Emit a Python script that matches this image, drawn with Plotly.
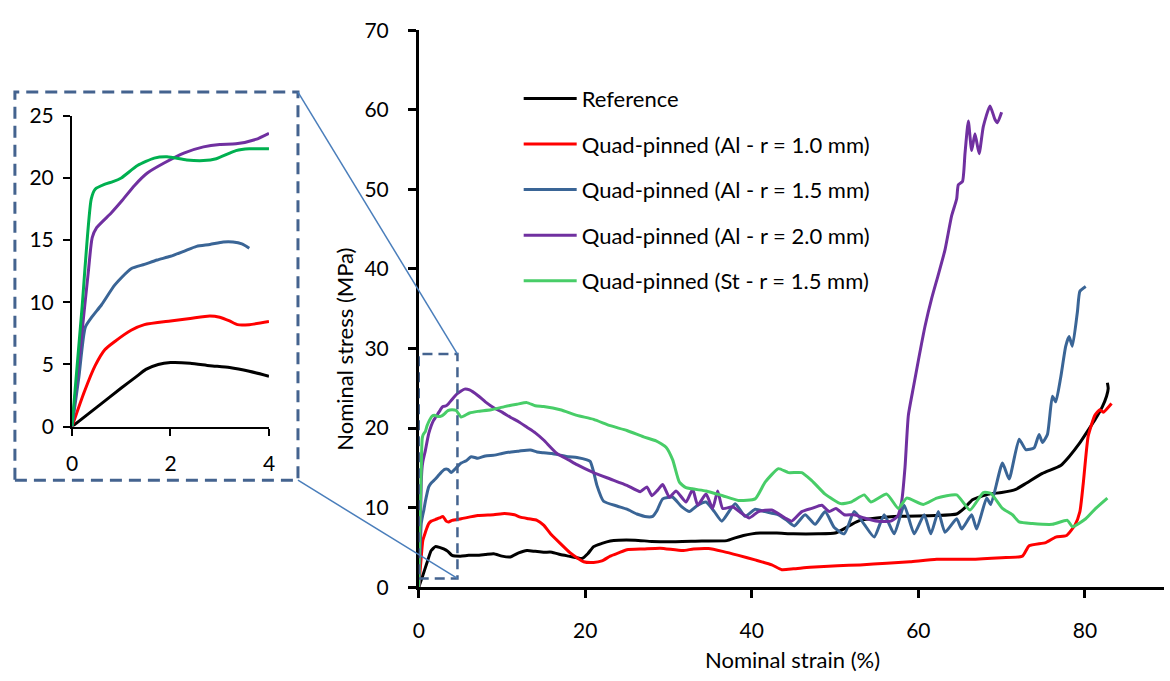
import plotly.graph_objects as go

# ---------------- main chart data (nominal strain %, nominal stress MPa) ----------------
ref_x = [0, 0.5, 1, 1.5, 2, 2.5, 3, 3.5, 4, 5, 6, 7, 8, 9, 10, 11, 12, 13, 14, 15, 16, 17, 18, 19, 19.6, 20.3,
         21, 22, 23, 24, 26, 28, 30, 34, 37, 38, 39, 40, 41, 43, 45, 48, 50, 51, 52, 53, 55, 58, 62, 64.6, 65.5,
         66.5, 68.5, 70, 71.7, 73, 74.9, 77.1, 78.1, 79.3, 80.5, 81.3, 82.1, 82.6, 82.8, 82.7]
ref_y = [0, 1.5, 3.1, 4.6, 5.1, 5.0, 4.8, 4.5, 4.0, 3.9, 4.0, 4.0, 4.1, 4.2, 3.9, 3.8, 4.3, 4.6, 4.5, 4.4, 4.4,
         4.1, 3.9, 3.7, 3.6, 4.2, 5.1, 5.5, 5.8, 5.9, 5.9, 5.75, 5.7, 5.8, 5.85, 6.2, 6.5, 6.7, 6.8, 6.8, 6.7,
         6.7, 6.8, 7.3, 7.9, 8.4, 8.7, 8.9, 9.0, 9.2, 9.9, 11.0, 11.7, 11.9, 12.3, 13.1, 14.3, 15.3, 16.4, 18.0,
         19.9, 21.2, 22.7, 24.0, 25.0, 25.7]

red_x = [0, 0.2, 0.4, 0.5, 0.8, 1.0, 1.2, 1.5, 2.0, 2.5, 2.9, 3.3, 3.6, 4.0, 5.1, 7.1, 9, 10.3, 11.5, 12.2, 13.2,
         14.2, 15.0, 15.8, 17, 18.2, 19.0, 19.8, 21, 22, 23, 24, 25, 27, 29, 31.7, 33, 34.8, 36.5, 38.4, 40.5,
         42.4, 43.6, 45, 47, 50.3, 53, 56.2, 59, 62.2, 66.1, 70, 72.5, 73.3, 75.3, 76.5, 77.8, 78.8, 79.4, 79.8,
         80.4, 81.2, 81.8, 82.2, 83.2]
red_y = [0, 2.5, 5.0, 5.9, 6.9, 7.5, 8.0, 8.3, 8.5, 8.7, 8.9, 8.3, 8.2, 8.4, 8.6, 9.0, 9.1, 9.25, 9.1, 8.8, 8.6,
         8.4, 7.8, 6.75, 5.5, 4.3, 3.7, 3.2, 3.1, 3.3, 3.9, 4.3, 4.7, 4.8, 4.9, 4.6, 4.8, 4.85, 4.5, 4.0, 3.4,
         2.8, 2.2, 2.3, 2.5, 2.7, 2.8, 3.0, 3.2, 3.5, 3.5, 3.7, 3.9, 5.2, 5.6, 6.3, 6.5, 7.8, 9.5, 13.0, 19.0,
         21.6, 22.3, 22.0, 23.1]

blue_x = [0, 0.15, 0.3, 0.45, 0.6, 0.8, 1.0, 1.2, 1.5, 2.0, 2.5, 3.1, 3.5, 3.9, 4.5, 5.1, 5.7, 6.3, 7.1, 8, 9.1,
          10, 11.1, 12, 13.4, 14.2, 15, 16, 17, 18, 19, 20.2, 20.6, 21.0, 21.4, 22.2, 23.8, 25, 26.2, 27.4, 28.1,
          28.6, 29.3, 30.5, 31.5, 32.5, 33.5, 34.5, 35.5, 36.4, 38.0, 39.2, 40.4, 41.6, 43.2, 44.2, 45.1, 46.4,
          47.6, 48.8, 49.9, 51.1, 52.3, 53.5, 54.7, 55.9, 57.1, 58.3, 59.5, 60.7, 61.5, 62.4, 63.2, 64.6, 65.2,
          66.4, 67.0, 68.2, 68.7, 70.1, 70.9, 72.1, 72.9, 73.9, 74.5, 74.9, 75.5, 76.1, 76.5, 77.1, 77.7, 78.1,
          78.5, 79.1, 79.4, 80.1]
blue_y = [0, 4, 8, 8.9, 9.6, 10.8, 11.8, 12.6, 13.1, 13.6, 14.2, 14.8, 14.8, 14.4, 15.0, 15.6, 15.9, 16.4, 16.2,
          16.5, 16.6, 16.8, 17.0, 17.1, 17.25, 17.0, 16.9, 16.8, 16.6, 16.4, 16.3, 16.0, 15.8, 14.5, 12.8, 10.8,
          10.2, 9.8, 9.2, 8.85, 8.9, 9.6, 11.1, 11.3, 10.2, 9.5, 10.3, 10.7, 9.5, 8.3, 10.5, 8.9, 9.8, 9.5, 9.1,
          8.4, 7.7, 9.1, 7.9, 9.5, 7.5, 6.7, 9.5, 7.9, 6.3, 9.1, 6.7, 10.3, 6.7, 9.1, 6.7, 9.5, 6.9, 8.6, 7.3,
          9.1, 7.3, 11.2, 10.4, 15.6, 13.6, 18.6, 17.3, 17.5, 19.2, 18.2, 19.2, 24.0, 23.3, 26.4, 30.3, 31.5,
          30.3, 34.6, 37.2, 37.8]

purple_x = [0, 0.2, 0.3, 0.4, 0.5, 0.8, 1.0, 1.2, 1.5, 1.8, 2.0, 2.3, 2.6, 2.9, 3.3, 3.6, 4.0, 4.6, 5.5, 6.1,
            7.1, 8, 9.1, 10, 11.1, 12, 13.0, 14, 15, 16.6, 18, 19, 21, 23, 25, 26.6, 27.4, 28, 28.7, 29.3, 30.1,
            30.9, 32.1, 32.9, 33.5, 34.5, 35.3, 35.9, 36.5, 37.7, 38.5, 39.7, 40.8, 42.4, 44, 44.8, 46, 47.2,
            48.4, 49.3, 50.1, 51.1, 52.3, 53.5, 55.1, 56.7, 57.5, 58.0, 58.4, 58.8, 59.4, 60.0, 60.8, 61.6, 62.4,
            63.2, 64.0, 64.6, 64.8, 65.3, 65.6, 66.0, 66.4, 66.8, 67.3, 67.8, 68.6, 69.2, 69.5, 70.0]
purple_y = [0, 8, 13, 15, 15.8, 17.2, 18.3, 19.3, 20.3, 21.0, 21.3, 21.8, 22.3, 22.7, 22.8, 23.1, 23.6, 24.3,
            24.9, 24.8, 24.1, 23.3, 22.5, 22.0, 21.3, 20.8, 20.1, 19.4, 18.5, 16.8, 16.0, 15.4, 14.4, 13.6, 12.8,
            12.0, 12.6, 11.5, 12.2, 12.9, 11.3, 12.1, 10.7, 12.3, 10.3, 11.7, 9.9, 12.1, 9.9, 10.1, 9.5, 8.7, 9.5,
            9.7, 8.7, 8.3, 9.5, 9.9, 10.3, 9.5, 9.9, 9.1, 9.1, 8.7, 8.3, 8.3, 8.9, 10.8, 15.1, 21.6, 25.1, 28.5,
            32.8, 36.3, 39.3, 42.4, 46.7, 48.8, 50.6, 51.0, 54.5, 58.6, 54.9, 57.0, 54.5, 57.9, 60.5, 58.8, 58.4,
            59.7]

green_x = [0, 0.2, 0.35, 0.42, 0.55, 0.8, 1.0, 1.3, 1.6, 1.9, 2.3, 2.7, 3.0, 3.5, 4.0, 4.5, 5.1, 6.1, 7.1, 8.7,
           10.3, 11.8, 13.0, 14, 15, 17, 19, 21, 23, 25, 27, 28.5, 29.7, 30.5, 31.3, 32.1, 34.5, 36.5, 38.4, 40.4,
           41.6, 43.2, 44.4, 46, 47.2, 48.8, 50.7, 51.9, 53.5, 54.3, 56.2, 57.6, 58.6, 60.6, 62.2, 64.6, 66.2,
           67.8, 68.7, 70.1, 71.3, 72.1, 73.7, 76.1, 77.9, 78.5, 80.1, 81.3, 82.7]
green_y = [0, 10, 17, 18.7, 19.2, 19.6, 20.3, 21.0, 21.5, 21.6, 21.45, 21.5, 21.7, 22.2, 22.3, 22.2, 21.4, 21.9,
           22.1, 22.3, 22.7, 23.0, 23.2, 22.8, 22.7, 22.3, 21.6, 21.1, 20.3, 19.7, 18.9, 18.4, 17.6, 16.0, 13.2,
           12.5, 12.1, 11.5, 10.9, 11.1, 13.2, 14.9, 14.4, 14.4, 13.4, 11.7, 10.5, 10.7, 11.6, 10.7, 11.7, 9.9,
           11.2, 10.4, 11.2, 11.6, 9.7, 11.9, 11.8, 9.9, 9.1, 8.2, 8.0, 7.9, 8.4, 7.6, 8.6, 9.9, 11.2]

# ---------------- inset data (0-4 % strain) ----------------
ins_ref_x = [0, 0.5, 1.0, 1.3, 1.5, 1.75, 2.0, 2.4, 2.8, 3.2, 3.6, 4.0]
ins_ref_y = [0, 1.55, 3.1, 4.0, 4.6, 5.0, 5.15, 5.1, 4.9, 4.75, 4.45, 4.05]
ins_red_x = [0, 0.25, 0.47, 0.67, 0.87, 1.2, 1.47, 2.0, 2.4, 2.8, 3.0, 3.2, 3.36, 3.6, 4.0]
ins_red_y = [0, 2.8, 4.9, 6.2, 6.85, 7.75, 8.2, 8.5, 8.7, 8.9, 8.8, 8.5, 8.2, 8.2, 8.45]
ins_blue_x = [0, 0.14, 0.27, 0.4, 0.6, 0.87, 1.2, 1.47, 1.73, 2.0, 2.27, 2.53, 2.8, 3.07, 3.27, 3.45, 3.6]
ins_blue_y = [0, 4.0, 8.0, 8.8, 9.8, 11.4, 12.7, 13.05, 13.4, 13.7, 14.1, 14.5, 14.65, 14.85, 14.85, 14.7, 14.35]
ins_purple_x = [0, 0.2, 0.33, 0.41, 0.5, 0.8, 1.0, 1.27, 1.53, 1.87, 2.27, 2.67, 3.0, 3.33, 3.73, 4.0]
ins_purple_y = [0, 7.5, 12.4, 15.2, 16.0, 17.2, 18.1, 19.4, 20.4, 21.2, 22.0, 22.5, 22.7, 22.75, 23.1, 23.6]
ins_green_x = [0, 0.2, 0.39, 0.47, 0.67, 0.83, 1.0, 1.33, 1.67, 1.93, 2.33, 2.67, 2.93, 3.33, 3.6, 4.0]
ins_green_y = [0, 9.4, 18.3, 19.1, 19.5, 19.7, 20.0, 21.0, 21.6, 21.7, 21.45, 21.4, 21.55, 22.2, 22.35, 22.35]

names = ["Reference", "Quad-pinned (Al - r = 1.0 mm)", "Quad-pinned (Al - r = 1.5 mm)",
         "Quad-pinned (Al - r = 2.0 mm)", "Quad-pinned (St - r = 1.5 mm)"]
main_colors = ["#000000", "#ff0000", "#3a6596", "#7030a0", "#48cd68"]
inset_colors = ["#000000", "#ff0000", "#3a6596", "#7030a0", "#00b050"]

main_data = [(ref_x, ref_y), (red_x, red_y), (blue_x, blue_y), (purple_x, purple_y), (green_x, green_y)]
inset_data = [(ins_ref_x, ins_ref_y), (ins_red_x, ins_red_y), (ins_blue_x, ins_blue_y),
              (ins_purple_x, ins_purple_y), (ins_green_x, ins_green_y)]

FONT = "Lato"
W, H = 1170, 681

fig = go.Figure()
for i, ((xs, ys), name) in enumerate(zip(main_data, names)):
    fig.add_trace(go.Scatter(x=xs, y=ys, mode="lines", name=name, legendgroup=f"g{i}",
                             line=dict(color=main_colors[i], width=3, shape="spline", smoothing=0.5),
                             xaxis="x", yaxis="y"))
for i, (xs, ys) in enumerate(inset_data):
    fig.add_trace(go.Scatter(x=xs, y=ys, mode="lines", showlegend=False, hoverinfo="skip",
                             line=dict(color=inset_colors[i], width=3, shape="spline", smoothing=0.6),
                             xaxis="x2", yaxis="y2"))

# pixel helpers -> paper coords
def px(x):
    return x / W

def py(y):
    return 1 - y / H

main_x0, main_x1 = 417, 1170
main_ytop, main_ybot = 17, 595
xr_main = [0, 89.5]
yr_main = [0, 70]
ins_x0, ins_x1 = 66.7, 265.7
ins_ytop, ins_ybot = 105.7, 428.3

axis_common = dict(showline=True, linecolor="black", ticks="outside", tickcolor="black",
                   showgrid=False, zeroline=False, tickfont=dict(family=FONT, size=21, color="black"))

fig.update_layout(
    width=W, height=H, margin=dict(l=0, r=0, t=0, b=0),
    paper_bgcolor="white", plot_bgcolor="rgba(0,0,0,0)",
    font=dict(family=FONT, color="black"),
    xaxis=dict(domain=[px(main_x0), px(main_x1)], range=xr_main, tickvals=[0, 20, 40, 60, 80],
               linewidth=2.5, tickwidth=2.5, ticklen=8, ticklabelstandoff=15, anchor="y", **axis_common),
    yaxis=dict(domain=[py(main_ybot), py(main_ytop)], range=yr_main, dtick=10,
               linewidth=2.5, tickwidth=2.5, ticklen=8, ticklabelstandoff=15, anchor="x", **axis_common),
    xaxis2=dict(domain=[px(ins_x0), px(ins_x1)], range=[0, 4], dtick=2, anchor="y2",
                linewidth=2, tickwidth=2, ticklen=7, ticklabelstandoff=10, **axis_common),
    yaxis2=dict(domain=[py(ins_ybot), py(ins_ytop)], range=[0, 25], dtick=5, anchor="x2",
                linewidth=2, tickwidth=2, ticklen=7, ticklabelstandoff=5, **axis_common),
    legend=dict(x=px(518), y=py(66), xanchor="left", yanchor="top", bgcolor="rgba(0,0,0,0)",
                font=dict(family=FONT, size=22, color="black"), tracegroupgap=14, traceorder="grouped",
                itemwidth=53),
    showlegend=True,
)

# axis titles
fig.add_annotation(text="Nominal strain (%)", x=px(795), y=py(670), xref="paper", yref="paper",
                   xanchor="center", yanchor="middle",
                   showarrow=False, font=dict(family=FONT, size=22, color="black"))
fig.add_annotation(text="Nominal stress (MPa)", x=px(342), y=py(348), xref="paper", yref="paper",
                   xanchor="center", yanchor="middle",
                   showarrow=False, textangle=-90, font=dict(family=FONT, size=22, color="black"))

# zoom-region box on main chart (in data coordinates)
box_x1, box_y0, box_y1 = 4.65, 1.1, 29.3
dash_color = "#44638f"
fig.add_shape(type="rect", xref="x", yref="y", x0=0, x1=box_x1, y0=box_y0, y1=box_y1,
              line=dict(color=dash_color, width=2.5, dash="10px,6px"))
# inset frame
fig.add_shape(type="rect", xref="paper", yref="paper", x0=px(9), x1=px(295), y0=py(484), y1=py(81),
              line=dict(color=dash_color, width=3, dash="12px,7px"))

# connecting lines from inset frame to zoom box corners
def main_paper_x(v):
    return px(main_x0) + (v - xr_main[0]) / (xr_main[1] - xr_main[0]) * (px(main_x1) - px(main_x0))

def main_paper_y(v):
    return py(main_ybot) + (v - yr_main[0]) / (yr_main[1] - yr_main[0]) * (py(main_ytop) - py(main_ybot))

fig.add_shape(type="line", xref="paper", yref="paper", x0=px(295), y0=py(81),
              x1=main_paper_x(box_x1), y1=main_paper_y(box_y1), line=dict(color="#4a7ebb", width=1.5))
fig.add_shape(type="line", xref="paper", yref="paper", x0=px(295), y0=py(484),
              x1=main_paper_x(box_x1), y1=main_paper_y(box_y0), line=dict(color="#4a7ebb", width=1.5))

fig.write_html("out.html")
